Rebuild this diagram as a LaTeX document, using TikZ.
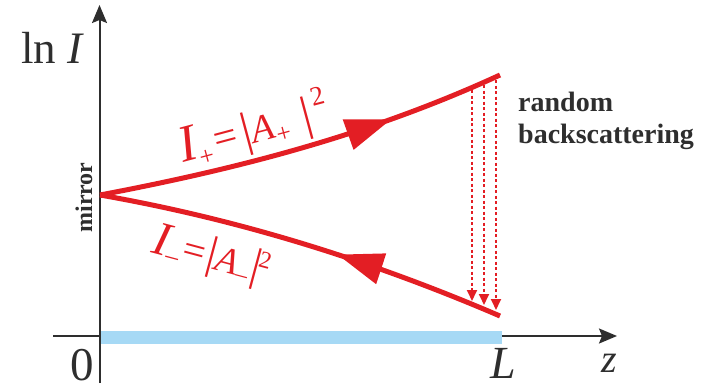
\documentclass[tikz,border=0pt]{standalone}
\usepackage{fontspec}
\setmainfont{Liberation Serif}
\usetikzlibrary{arrows.meta,decorations.markings}
\definecolor{cred}{HTML}{E31E24}
\definecolor{cblue}{HTML}{A6D9F5}
\definecolor{caxis}{HTML}{2E2E2E}
\newcommand\myfs[1]{\fontsize{#1}{#1}\selectfont}
\begin{document}
\begin{tikzpicture}[x=1pt,y=-1pt,
  axisline/.style={caxis,line width=2pt,-{Stealth[length=18pt,width=15pt,inset=3pt]}},
  beam/.style={cred,line width=5pt,postaction={decorate}},
  bigtip/.style={decoration={markings,mark=at position #1 with {\arrow{Triangle[length=46pt,width=31pt]}}}},
  scat/.style={cred,line width=1.8pt,dash pattern=on 3pt off 2.5pt,-{Triangle[length=11pt,width=10pt]}},
  lbl/.style={cred,inner sep=0pt,anchor=base west},
  txt/.style={caxis,inner sep=0pt}]
\useasboundingbox (0,0) rectangle (710,386);
% axes
\coordinate (O) at (99.5,336);
\coordinate (yb) at (99.5,383);
\coordinate (yt) at (99.5,5);
\coordinate (xl) at (53,336);
\coordinate (xr) at (617,336);
\draw[axisline] (yb) -- (yt);
\draw[axisline] (xl) -- (xr);
% fibre bar
\fill[cblue] (100.5,330.5) rectangle (502,343.5);
% beams
\coordinate (M) at (100,195);
\coordinate (Up) at (500,75);
\coordinate (Lo) at (500,316);
\draw[beam,bigtip=0.72] (M) .. controls (233.3,169.7) and (366.7,136.3) .. (Up);
\draw[beam,bigtip=0.415] (Lo) .. controls (366.7,258.7) and (233.3,218.3) .. (M);
% backscattering arrows
\coordinate (s1) at (472,90);  \coordinate (e1) at (472,301);
\coordinate (s2) at (484,85);  \coordinate (e2) at (484,305);
\coordinate (s3) at (496,80);  \coordinate (e3) at (496,310);
\draw[scat] (s1) -- (e1);
\draw[scat] (s2) -- (e2);
\draw[scat] (s3) -- (e3);
% labels
\node[lbl,rotate=15] (lp) at (183,163) {{\myfs{52}\itshape I}\raisebox{-8pt}{\myfs{26}+}\kern4pt{\myfs{42}=}\kern5pt{\myfs{48}|}{\myfs{38}\itshape A}\raisebox{-6pt}{\myfs{26}+}\kern14pt{\myfs{48}|}\kern4pt\raisebox{21pt}{\myfs{27}2}};
\node[lbl,rotate=-15] (lm) at (150,252) {{\myfs{48}\itshape I}\raisebox{-7pt}{\myfs{26}–}\kern2pt{\myfs{40}=}\kern3pt{\myfs{46}|}{\myfs{37}\itshape A}\raisebox{-6pt}{\myfs{24}–}\kern1pt{\myfs{46}|}\kern-3pt\raisebox{14pt}{\myfs{24}2}};
\node[txt,anchor=base west] (lnI) at (21,63) {\myfs{45}ln \textit{I}};
\node[txt,anchor=base,text depth=0pt] (zero) at (82.5,380) {\myfs{47}0};
\node[txt,anchor=base,text depth=0pt] (Lz) at (503,378) {\myfs{46}\itshape L};
\node[txt,anchor=base,text depth=0pt] (zz) at (609,372) {\myfs{40}\itshape z};
\node[txt,anchor=base,rotate=90] (mir) at (92,197.5) {\myfs{24}\bfseries mirror};
\node[txt,anchor=base west,align=left,font=\myfs{28}\bfseries] (rb) at (518,143) {random\\[4pt]backscattering};
\end{tikzpicture}
\end{document}
